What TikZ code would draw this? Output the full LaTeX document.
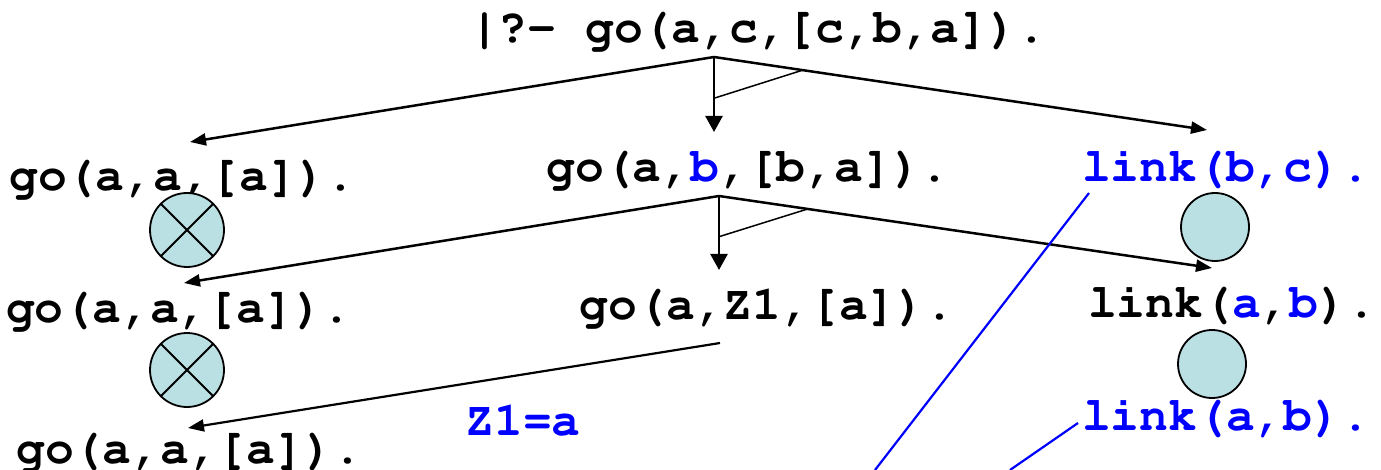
\documentclass[tikz,border=0pt]{standalone}
\usepackage[T1,TU]{fontenc}
\usetikzlibrary{arrows.meta, calc}
\definecolor{hitblue}{HTML}{0000FF}
\definecolor{leaf}{HTML}{BBE0E3}

\begin{document}
\begin{tikzpicture}[
  x=0.5pt, y=-0.5pt,
  goal/.style={anchor=base, inner sep=0pt,
               font=\fontencoding{T1}\fontfamily{pcr}\fontseries{b}\fontsize{24}{28}\selectfont},
  arr/.style={-{Triangle[length=8pt,width=6pt]}, line width=1.25pt},
  down/.style={-{Triangle[length=8pt,width=8.5pt]}, line width=1.25pt},
  cut/.style={line width=0.75pt},
  bind/.style={draw=hitblue, line width=1.1pt},
  done/.style={circle, draw, fill=leaf, line width=0.9pt,
               minimum size=34pt, inner sep=0pt},
  fail/.style={done, minimum size=37pt,
               path picture={\draw[line width=0.9pt]
                 (path picture bounding box.north west) -- (path picture bounding box.south east)
                 (path picture bounding box.north east) -- (path picture bounding box.south west);}}
]
\useasboundingbox (0,0) rectangle (1381,470);

\node[goal] (q0) at (758,43) {|?- go(a,c,[c,b,a]).};
\node[goal] (g1) at (182,191) {go(a,a,[a]).};
\node[goal] (g2) at (748,182) {go(a,\textcolor{hitblue}{b},[b,a]).};
\node[goal, text=hitblue] (l1) at (1226,182) {link(b,c).};
\node[fail] (x1) at (187,230) {};
\node[done] (o1) at (1215,227) {};
\node[goal] (g3) at (179,322) {go(a,a,[a]).};
\node[goal] (g4) at (767,320) {go(a,Z1,[a]).};
\node[goal] (l2) at (1232,317) {link(\textcolor{hitblue}{a},\textcolor{hitblue}{b}).};
\node[fail] (x2) at (187,370) {};
\node[done] (o2) at (1212,364) {};
\node[goal, text=hitblue] (z1) at (523,435) {Z1=a};
\node[goal, text=hitblue] (l3) at (1226,430) {link(a,b).};
\node[goal] (g5) at (189,463) {go(a,a,[a]).};

\coordinate (q0out) at (714,57);
\coordinate (g1in) at (190,142);
\coordinate (g2in) at (714,132);
\coordinate (l1in) at (1207,130);
\coordinate (g2out) at (719,196);
\coordinate (g3in) at (184,283);
\coordinate (g4in) at (719,270);
\coordinate (l2in) at (1212,268);
\coordinate (g4out) at (720,343);
\coordinate (g5in) at (188,428);
\coordinate (l1end) at (875,470);
\coordinate (l3end) at (1010,470);

\draw[arr] (q0out) -- (g1in);
\draw[down] (q0out) -- coordinate[pos=0.55] (c1) (g2in);
\draw[arr] (q0out) -- coordinate[pos=0.18] (c2) (l1in);
\draw[cut] (c1) -- (c2);

\draw[arr] (g2out) -- (g3in);
\draw[down] (g2out) -- coordinate[pos=0.55] (c3) (g4in);
\draw[arr] (g2out) -- coordinate[pos=0.18] (c4) (l2in);
\draw[cut] (c3) -- (c4);

\draw[arr, line width=1.1pt] (g4out) -- (g5in);

\draw[bind] (1089,193) -- (l1end);
\draw[bind] (1078,423) -- (l3end);
\end{tikzpicture}
\end{document}
